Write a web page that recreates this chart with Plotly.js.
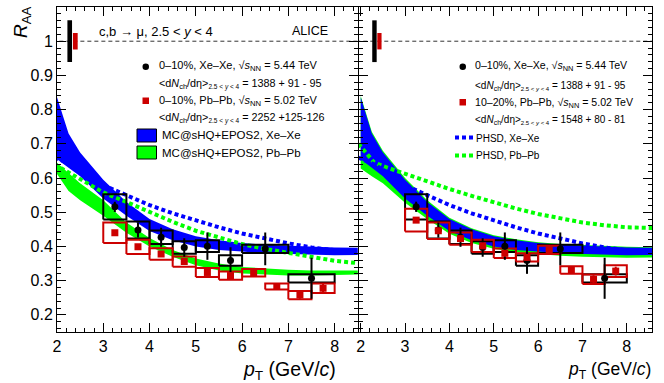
<!DOCTYPE html>
<html>
<head>
<meta charset="utf-8">
<script src="https://cdn.plot.ly/plotly-3.0.1.min.js"></script>
<style>html,body{margin:0;padding:0;background:#fff}</style>
</head>
<body>
<div id="chart" style="width:664px;height:383px"></div>
<script>
// Xe-Xe 0-10% (same points in both panels)
const xeX    = [3.25, 3.75, 4.25, 4.75, 5.25, 5.75, 6.5, 7.5];
const xeLo   = [3.0, 3.5, 4.0, 4.5, 5.0, 5.5, 6.0, 7.0];
const xeHi   = [3.5, 4.0, 4.5, 5.0, 5.5, 6.0, 7.0, 8.0];
const xeRaa  = [0.516, 0.448, 0.427, 0.397, 0.401, 0.359, 0.393, 0.307];
const xeStat = [0.015, 0.022, 0.028, 0.027, 0.040, 0.039, 0.048, 0.060];
const xeSys  = [0.037, 0.025, 0.020, 0.018, 0.017, 0.015, 0.012, 0.012];

// Pb-Pb bins
const pbX  = [3.25, 3.75, 4.25, 4.75, 5.25, 5.75, 6.25, 6.75, 7.25, 7.75];
const pbLo = [3.0, 3.5, 4.0, 4.5, 5.0, 5.5, 6.0, 6.5, 7.0, 7.5];
const pbHi = [3.5, 4.0, 4.5, 5.0, 5.5, 6.0, 6.5, 7.0, 7.5, 8.0];

// Pb-Pb 0-10% (left)
const pb010Raa  = [0.440, 0.399, 0.378, 0.356, 0.324, 0.315, 0.323, 0.283, 0.258, 0.278];
const pb010Stat = [0.005, 0.005, 0.006, 0.006, 0.007, 0.008, 0.009, 0.010, 0.011, 0.012];
const pb010Sys  = [0.030, 0.021, 0.017, 0.015, 0.013, 0.012, 0.011, 0.009, 0.012, 0.014];

// Pb-Pb 10-20% (right)
const pb1020Raa  = [0.477, 0.446, 0.423, 0.402, 0.380, 0.368, 0.390, 0.331, 0.304, 0.328];
const pb1020Stat = [0.006, 0.006, 0.006, 0.007, 0.008, 0.009, 0.010, 0.011, 0.012, 0.013];
const pb1020Sys  = [0.033, 0.024, 0.018, 0.018, 0.014, 0.012, 0.012, 0.011, 0.014, 0.017];

// normalisation uncertainties (drawn at R_AA = 1)
const normXe = 0.061, normPb010 = 0.024, normPb1020 = 0.024;

// models
const modelX     = [2.0, 2.25, 2.5, 3.0, 3.5, 4.0, 4.5, 5.0, 5.5, 6.0, 6.5, 7.0, 7.5, 8.0, 8.6];
const mcXeUp     = [0.836, 0.730, 0.675, 0.595, 0.530, 0.480, 0.450, 0.430, 0.418, 0.410, 0.405, 0.402, 0.400, 0.397, 0.396];
const mcXeLo     = [0.655, 0.630, 0.605, 0.540, 0.490, 0.445, 0.418, 0.400, 0.390, 0.385, 0.380, 0.378, 0.376, 0.374, 0.375];
const mcPb010Up  = [0.645, 0.615, 0.585, 0.535, 0.470, 0.425, 0.390, 0.365, 0.350, 0.340, 0.335, 0.332, 0.330, 0.330, 0.330];
const mcPb010Lo  = [0.612, 0.562, 0.535, 0.490, 0.440, 0.400, 0.370, 0.345, 0.330, 0.321, 0.317, 0.315, 0.315, 0.316, 0.318];
const mcPb1020Up = [0.840, 0.735, 0.680, 0.600, 0.535, 0.484, 0.453, 0.433, 0.421, 0.412, 0.407, 0.404, 0.402, 0.399, 0.398];
const mcPb1020Lo = [0.628, 0.605, 0.585, 0.528, 0.480, 0.437, 0.410, 0.393, 0.383, 0.378, 0.373, 0.370, 0.368, 0.367, 0.368];

const phsdX      = [1.95, 2.3, 2.5, 3.0, 3.5, 4.0, 4.5, 5.0, 5.5, 6.0, 6.5, 7.0, 7.5, 8.0, 8.6];
const phsdXe     = [0.660, 0.640, 0.625, 0.579, 0.550, 0.521, 0.497, 0.475, 0.456, 0.438, 0.423, 0.409, 0.397, 0.389, 0.384];
const phsdPb010  = [0.640, 0.612, 0.598, 0.558, 0.530, 0.500, 0.472, 0.446, 0.425, 0.407, 0.393, 0.381, 0.369, 0.358, 0.350];
const phsdPb1020 = [0.700, 0.646, 0.635, 0.612, 0.588, 0.568, 0.548, 0.529, 0.511, 0.495, 0.482, 0.470, 0.462, 0.456, 0.454];

const RED = '#cc0000', BLUE = '#0000ff', GREEN = '#00ff00';
const FONT = 'Liberation Sans, Arial, sans-serif';

function band(up, lo, color, xa, ya) {
    return {
        x: modelX.concat(modelX.slice().reverse()),
        y: up.concat(lo.slice().reverse()),
        fill: 'toself', fillcolor: color, mode: 'lines', line: {width: 0},
        xaxis: xa, yaxis: ya, hoverinfo: 'skip'
    };
}

function dotted(y, color, xa, ya) {
    return {x: phsdX, y: y, mode: 'lines', line: {color: color, width: 4, dash: '4px,3px'},
            xaxis: xa, yaxis: ya, hoverinfo: 'skip'};
}

// systematic boxes as open rectangles
function boxes(lo, hi, val, sys, color, xa, ya) {
    const bx = [], by = [];
    for (let i = 0; i < val.length; i++) {
        bx.push(lo[i], hi[i], hi[i], lo[i], lo[i], null);
        by.push(val[i] - sys[i], val[i] - sys[i], val[i] + sys[i], val[i] + sys[i], val[i] - sys[i], null);
    }
    return {x: bx, y: by, mode: 'lines', line: {color: color, width: 2}, xaxis: xa, yaxis: ya, hoverinfo: 'skip'};
}

function points(x, val, stat, color, symbol, xa, ya) {
    return {
        x: x, y: val, mode: 'markers',
        marker: {color: color, symbol: symbol, size: 7},
        error_y: {type: 'data', array: stat, visible: true, color: color, thickness: 2, width: 0},
        xaxis: xa, yaxis: ya
    };
}

function unity(xa, ya) {
    return {x: [1.9, 8.7], y: [1, 1], mode: 'lines', line: {color: '#333', width: 1, dash: '4px,3px'},
            xaxis: xa, yaxis: ya, hoverinfo: 'skip'};
}

const traces = [
    unity('x', 'y'),
    band(mcPb010Up, mcPb010Lo, GREEN, 'x', 'y'),
    band(mcXeUp, mcXeLo, BLUE, 'x', 'y'),
    dotted(phsdPb010, GREEN, 'x', 'y'),
    dotted(phsdXe, BLUE, 'x', 'y'),
    boxes(xeLo, xeHi, xeRaa, xeSys, '#000', 'x', 'y'),
    boxes(pbLo, pbHi, pb010Raa, pb010Sys, RED, 'x', 'y'),
    points(xeX, xeRaa, xeStat, '#000', 'circle', 'x', 'y'),
    points(pbX, pb010Raa, pb010Stat, RED, 'square', 'x', 'y'),

    unity('x2', 'y2'),
    band(mcPb1020Up, mcPb1020Lo, GREEN, 'x2', 'y2'),
    band(mcXeUp, mcXeLo, BLUE, 'x2', 'y2'),
    dotted(phsdPb1020, GREEN, 'x2', 'y2'),
    dotted(phsdXe, BLUE, 'x2', 'y2'),
    boxes(xeLo, xeHi, xeRaa, xeSys, '#000', 'x2', 'y2'),
    boxes(pbLo, pbHi, pb1020Raa, pb1020Sys, RED, 'x2', 'y2'),
    points(xeX, xeRaa, xeStat, '#000', 'circle', 'x2', 'y2'),
    points(pbX, pb1020Raa, pb1020Stat, RED, 'square', 'x2', 'y2')
];

// pixel -> paper helpers for the hand-placed legend
const L = 57, T = 7, PW = 595, PH = 325;
const px = v => (v - L) / PW;
const py = v => (T + PH - v) / PH;

function axisX(domain, range, anchor) {
    return {
        domain: domain, range: range, anchor: anchor,
        showline: true, linecolor: '#000', linewidth: 1, mirror: 'ticks',
        ticks: 'inside', ticklen: 9, tickcolor: '#000', tick0: 0, dtick: 1,
        minor: {ticks: 'inside', ticklen: 4, tickcolor: '#000', dtick: 0.2},
        showgrid: false, zeroline: false,
        tickfont: {size: 16, color: '#000'}
    };
}
function axisY(anchor, labels) {
    return {
        domain: [0, 1], range: [0.15, 1.1], anchor: anchor,
        showline: true, linecolor: '#000', linewidth: 1, mirror: 'ticks',
        ticks: 'inside', ticklen: 9, tickcolor: '#000', tick0: 0, dtick: 0.1,
        minor: {ticks: 'inside', ticklen: 4, tickcolor: '#000', dtick: 0.02},
        showgrid: false, zeroline: false, showticklabels: labels,
        tickfont: {size: 16, color: '#000'}
    };
}

const normRect = (x0, x1, half, color, xr, yr) => ({
    type: 'rect', xref: xr, yref: yr, x0: x0, x1: x1, y0: 1 - half, y1: 1 + half,
    fillcolor: color, line: {width: 0}
});

const shapes = [
    normRect(2.225, 2.325, normXe, '#000', 'x', 'y'),
    normRect(2.345, 2.447, normPb010, RED, 'x', 'y'),
    normRect(2.26, 2.36, normXe, '#000', 'x2', 'y2'),
    normRect(2.374, 2.47, normPb1020, RED, 'x2', 'y2'),
    // left legend symbols
    {type: 'circle', xref: 'paper', yref: 'paper', x0: px(142.5), x1: px(149), y0: py(63.5), y1: py(70), fillcolor: '#000', line: {width: 0}},
    {type: 'rect', xref: 'paper', yref: 'paper', x0: px(142.5), x1: px(149), y0: py(97.5), y1: py(104), fillcolor: RED, line: {width: 0}},
    {type: 'rect', xref: 'paper', yref: 'paper', x0: px(137), x1: px(156.5), y0: py(129), y1: py(142), fillcolor: BLUE, line: {color: '#000', width: 1}},
    {type: 'rect', xref: 'paper', yref: 'paper', x0: px(137), x1: px(156.5), y0: py(146), y1: py(159), fillcolor: GREEN, line: {color: '#000', width: 1}},
    // right legend symbols
    {type: 'circle', xref: 'paper', yref: 'paper', x0: px(459.5), x1: px(466), y0: py(63.5), y1: py(70), fillcolor: '#000', line: {width: 0}},
    {type: 'rect', xref: 'paper', yref: 'paper', x0: px(459.5), x1: px(466), y0: py(99), y1: py(105.5), fillcolor: RED, line: {width: 0}},
    {type: 'line', xref: 'paper', yref: 'paper', x0: px(455), x1: px(473), y0: py(137.5), y1: py(137.5), line: {color: BLUE, width: 4, dash: '4px,3px'}},
    {type: 'line', xref: 'paper', yref: 'paper', x0: px(455), x1: px(473), y0: py(155.5), y1: py(155.5), line: {color: GREEN, width: 4, dash: '4px,3px'}}
];

const sqrtS = '√<i>s</i><sub>NN</sub>';
const dndeta = sub => '&lt;d<i>N</i><sub>ch</sub>/dη&gt;<sub><span style="font-size:' + sub + 'px">2.5 &lt; <i>y</i> &lt; 4</span></sub>';

function label(text, x, y, size, anchor) {
    return {text: text, xref: 'paper', yref: 'paper', x: px(x), y: py(y), showarrow: false,
            xanchor: anchor || 'left', yanchor: 'middle', font: {size: size || 12, color: '#000'}};
}

const annotations = [
    Object.assign(label('<i>R</i><sub>AA</sub>', 22, 22, 19, 'center'), {textangle: -90}),
    label('c,b → μ, 2.5 &lt; <i>y</i> &lt; 4', 97, 31, 13),
    label('ALICE', 330, 31, 12.5, 'right'),

    label('0–10%, Xe–Xe, ' + sqrtS + ' = 5.44 TeV', 157, 66.5, 11),
    label(dndeta(6.5) + ' = 1388 + 91 - 95', 157, 84, 10.8),
    label('0–10%, Pb–Pb, ' + sqrtS + ' = 5.02 TeV', 157, 100.5, 11),
    label(dndeta(6.5) + ' = 2252 +125-126', 157, 118, 10.8),
    label('MC@sHQ+EPOS2, Xe–Xe', 160, 135.5, 11.5),
    label('MC@sHQ+EPOS2, Pb–Pb', 160, 152.5, 11.5),

    label('0–10%, Xe–Xe, ' + sqrtS + ' = 5.44 TeV', 473, 66.5, 10.6),
    label(dndeta(6) + ' = 1388 + 91 - 95', 473, 85.5, 10),
    label('10–20%, Pb–Pb, ' + sqrtS + ' = 5.02 TeV', 473, 102.5, 10.6),
    label(dndeta(6) + ' = 1548 + 80 - 81', 473, 120, 10),
    label('PHSD, Xe–Xe', 474, 138, 10),
    label('PHSD, Pb–Pb', 474, 155.5, 10),

    label('<i>p</i><sub>T</sub> (GeV/<i>c</i>)', 338, 370, 19.5, 'right'),
    label('<i>p</i><sub>T</sub> (GeV/<i>c</i>)', 653, 370, 17.5, 'right')
];

const layout = {
    width: 664, height: 383,
    margin: {l: L, r: 12, t: T, b: 51},
    paper_bgcolor: '#fff', plot_bgcolor: '#fff',
    font: {family: FONT, color: '#000'},
    showlegend: false,
    xaxis: axisX([0, 0.5055], [2, 8.5], 'y'),
    yaxis: axisY('x', true),
    xaxis2: axisX([0.5076, 1], [1.962, 8.568], 'y2'),
    yaxis2: axisY('x2', false),
    shapes: shapes,
    annotations: annotations
};

Plotly.newPlot('chart', traces, layout, {displayModeBar: false, staticPlot: true});
</script>
</body>
</html>
